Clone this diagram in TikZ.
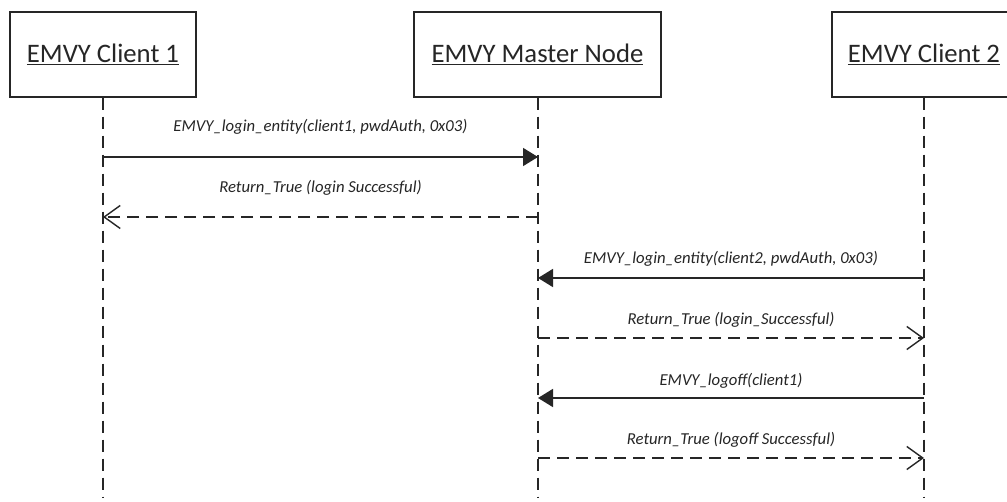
\documentclass[tikz,border=0pt]{standalone}
\usepackage{fontspec}
\setmainfont{Carlito}
\usetikzlibrary{arrows.meta}
\definecolor{ink}{HTML}{262626}
\begin{document}
\begin{tikzpicture}[x=1pt,y=-1pt,
  actor/.style={draw=ink, line width=1.4pt, fill=white, minimum height=85pt,
    inner sep=0pt, font=\fontsize{26.7}{30}\selectfont, text=ink},
  lifeline/.style={draw=ink, line width=1.4pt, dash pattern=on 12pt off 7pt},
  callmsg/.style={draw=ink, line width=1.6pt, -{Triangle[length=15pt,width=18pt]}},
  retmsg/.style={draw=ink, line width=1.4pt, dash pattern=on 12pt off 7pt,
    -{Straight Barb[length=16pt,width=23pt,line width=1.4pt]}},
  msglabel/.style={font=\fontsize{16.7}{19}\selectfont\itshape, text=ink, inner sep=0pt}]
\useasboundingbox (0,0) rectangle (1007,502);
\clip (0,0) rectangle (1007,502);
\fill[white] (0,0) rectangle (1007,502);

% actors
\node[actor, minimum width=186pt] (c1) at (103,54.5) {\underline{EMVY Client 1}};
\node[actor, minimum width=247pt] (mn) at (537.5,54.5) {\underline{EMVY Master Node}};
\node[actor, minimum width=184pt] (c2) at (924,54.5) {\underline{EMVY Client 2}};

% lifeline ends
\coordinate (c1end) at (103,498);
\coordinate (mnend) at (538,498);
\coordinate (c2end) at (924,498);
\draw[lifeline] (c1.south) -- (c1end);
\draw[lifeline] (mn.south -| mnend) -- (mnend);
\draw[lifeline] (c2.south) -- (c2end);

% message anchor points on lifelines
\coordinate (a1) at (103,157);  \coordinate (b1) at (538,157);
\coordinate (a2) at (103,217);  \coordinate (b2) at (538,217);
\coordinate (b3) at (538,278);  \coordinate (d3) at (924,278);
\coordinate (b4) at (538,338);  \coordinate (d4) at (924,338);
\coordinate (b5) at (538,398);  \coordinate (d5) at (924,398);
\coordinate (b6) at (538,458);  \coordinate (d6) at (924,458);

\draw[callmsg] (a1) -- (b1) node[msglabel, midway, yshift=30pt] (m1) {EMVY\_login\_entity(client1, pwdAuth, 0x03)};
\draw[retmsg] (b2) -- (a2) node[msglabel, midway, yshift=29pt] (m2) {Return\_True (login Successful)};
\draw[callmsg] (d3) -- (b3) node[msglabel, midway, yshift=19pt] (m3) {EMVY\_login\_entity(client2, pwdAuth, 0x03)};
\draw[retmsg] (b4) -- (d4) node[msglabel, midway, yshift=18pt] (m4) {Return\_True (login\_Successful)};
\draw[callmsg] (d5) -- (b5) node[msglabel, midway, yshift=17pt] (m5) {EMVY\_logoff(client1)};
\draw[retmsg] (b6) -- (d6) node[msglabel, midway, yshift=18pt] (m6) {Return\_True (logoff Successful)};
\end{tikzpicture}
\end{document}
